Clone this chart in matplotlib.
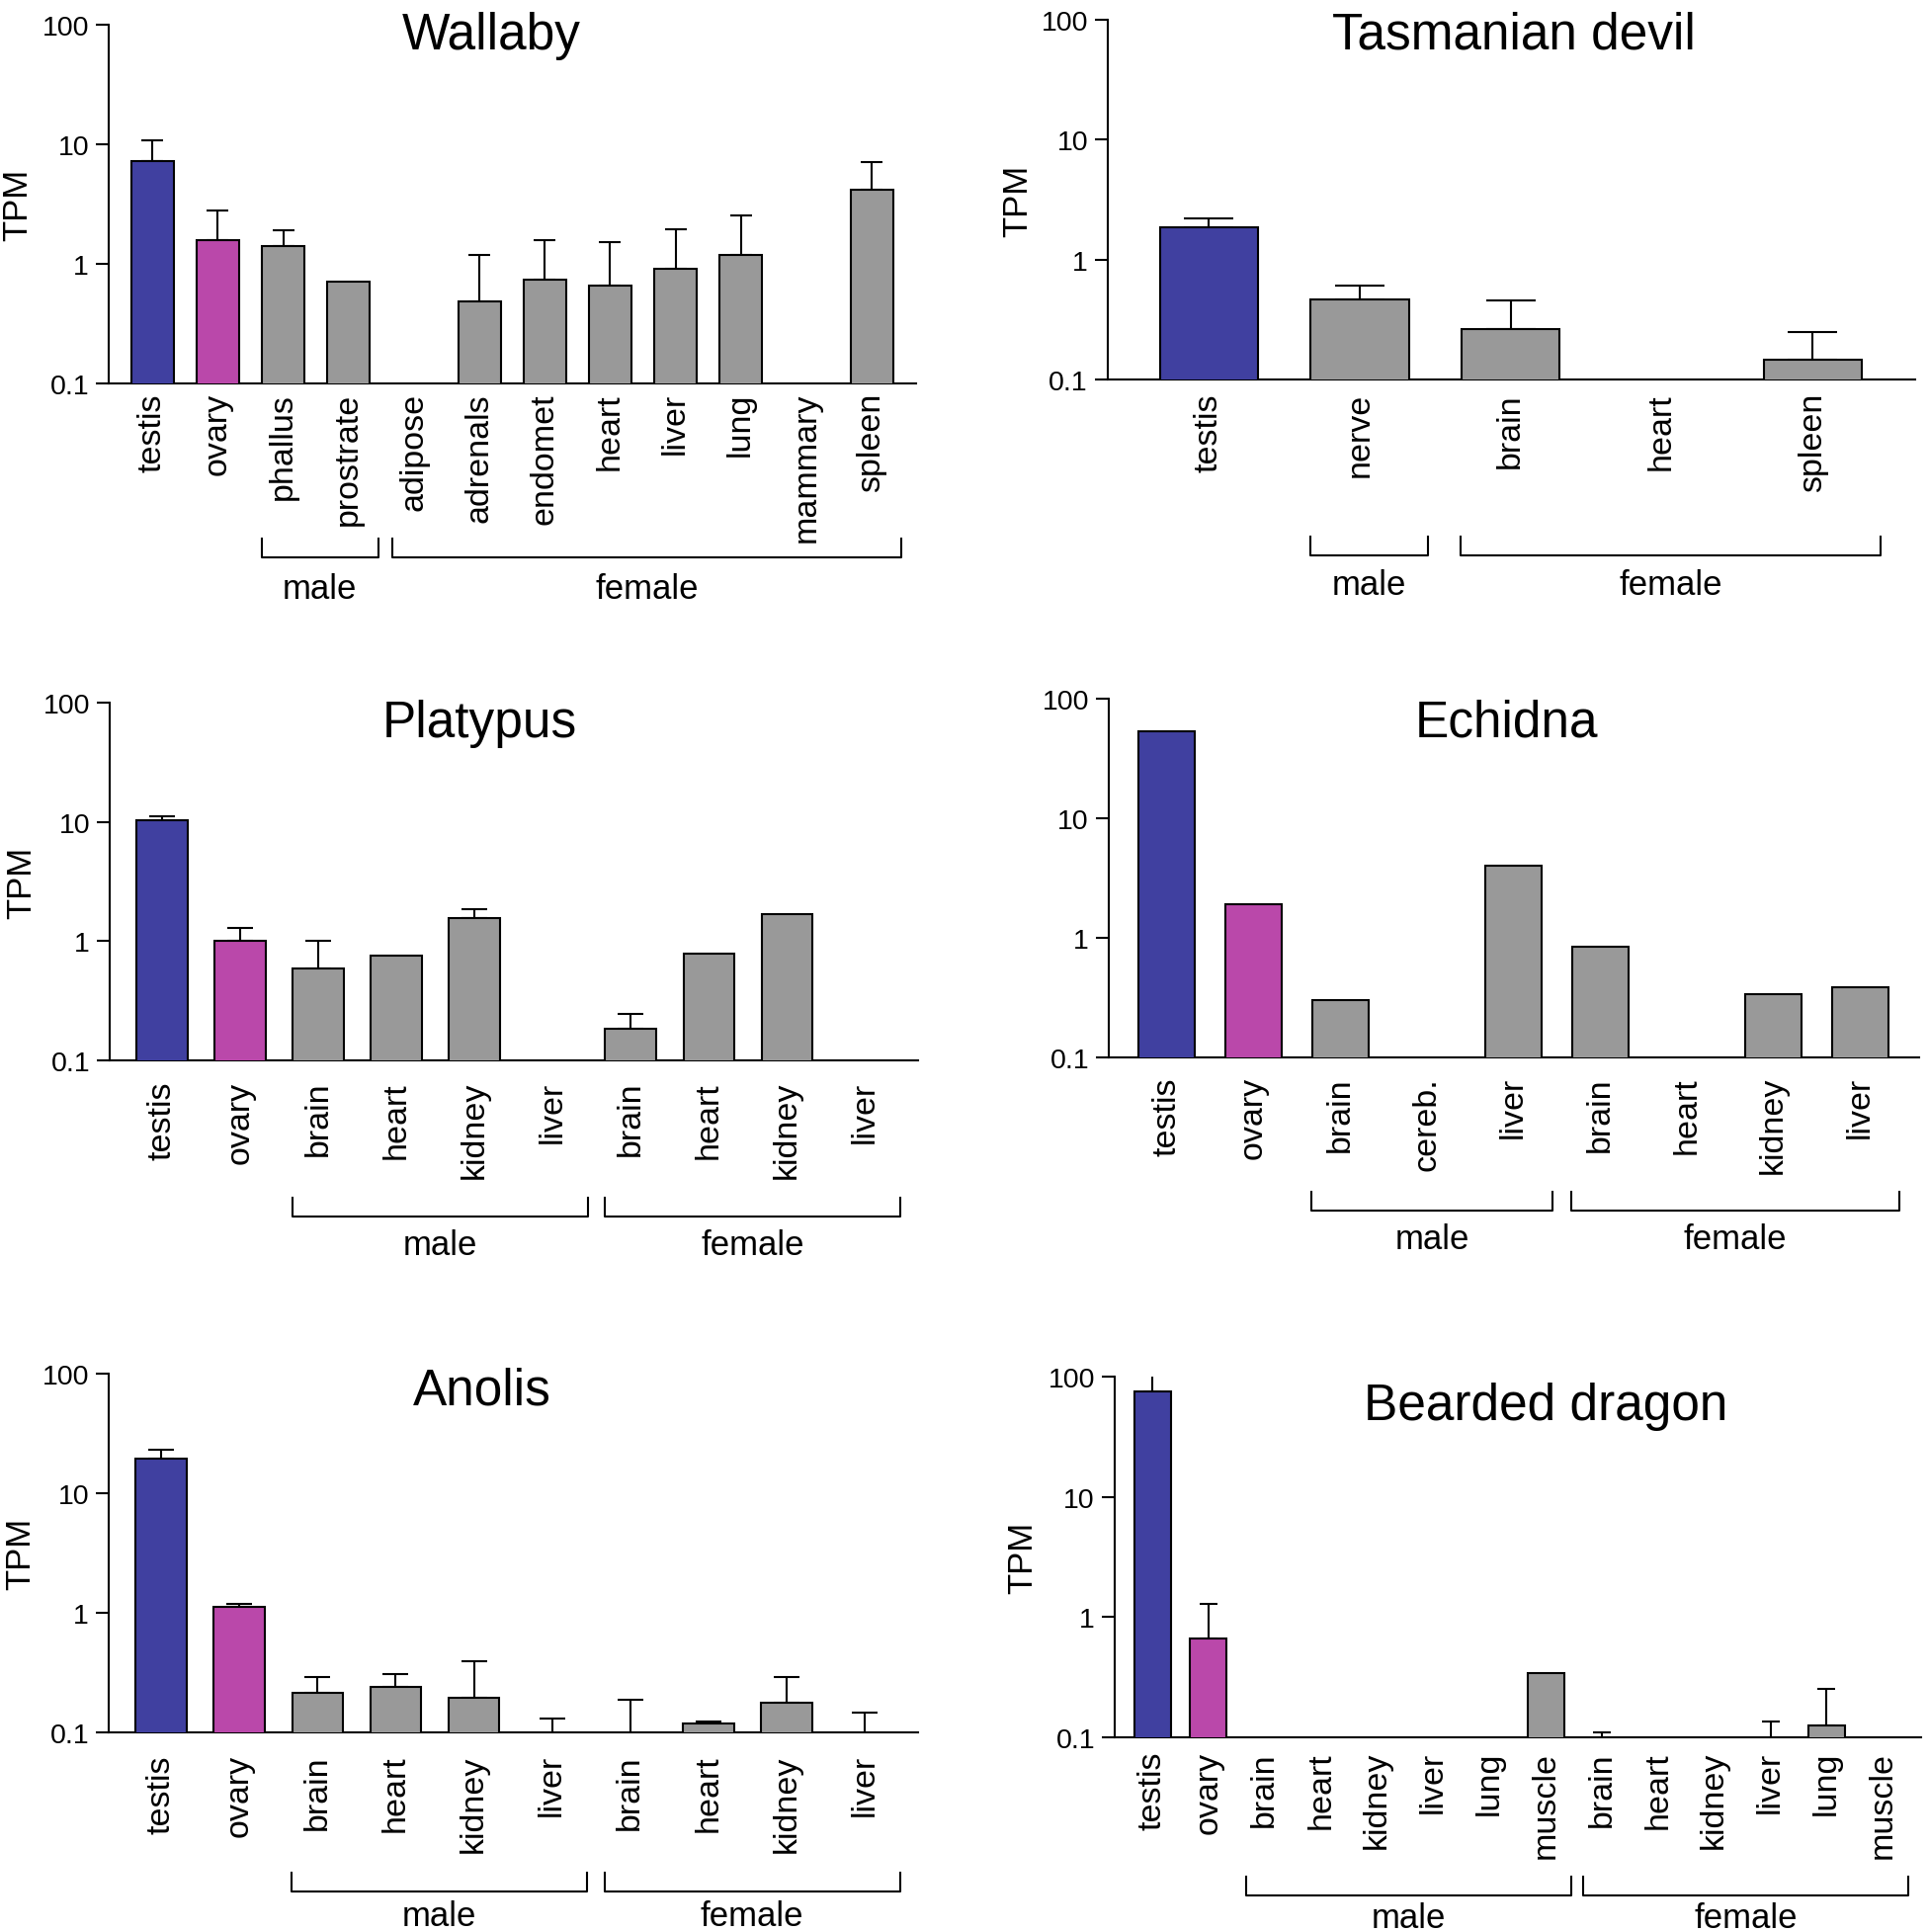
import numpy as np
import matplotlib.pyplot as plt
from matplotlib.ticker import NullLocator
from matplotlib.transforms import blended_transform_factory

plt.rcParams['font.family'] = ['Liberation Sans', 'DejaVu Sans']

#=======================================================
#               Values (TPM)
#=======================================================

# mean = bar height, err = upper error (cap - mean), 0 = nothing drawn
wallaby_tissues = ['testis', 'ovary', 'phallus', 'prostrate', 'adipose', 'adrenals',
                   'endomet', 'heart', 'liver', 'lung', 'mammary', 'spleen']
wallaby_mean = [7.3, 1.58, 1.42, 0.71, 0, 0.485, 0.74, 0.66, 0.91, 1.19, 0, 4.15]
wallaby_err = [3.5, 1.21, 0.49, 0, 0, 0.7, 0.83, 0.85, 1.04, 1.37, 0, 2.95]
wallaby_groups = [('male', 2, 3), ('female', 4, 11)]

devil_tissues = ['testis', 'nerve', 'brain', 'heart', 'spleen']
devil_mean = [1.86, 0.465, 0.263, 0, 0.147]
devil_err = [0.35, 0.14, 0.19, 0, 0.10]
devil_groups = [('male', 1, 1), ('female', 2, 4)]

platypus_tissues = ['testis', 'ovary', 'brain', 'heart', 'kidney', 'liver',
                    'brain', 'heart', 'kidney', 'liver']
platypus_mean = [10.3, 1.01, 0.59, 0.76, 1.56, 0, 0.183, 0.79, 1.68, 0]
platypus_err = [0.8, 0.27, 0.41, 0, 0.28, 0, 0.061, 0, 0, 0]
platypus_groups = [('male', 2, 5), ('female', 6, 9)]

echidna_tissues = ['testis', 'ovary', 'brain', 'cereb.', 'liver',
                   'brain', 'heart', 'kidney', 'liver']
echidna_mean = [53.5, 1.92, 0.30, 0, 4.03, 0.835, 0, 0.336, 0.387]
echidna_err = [0, 0, 0, 0, 0, 0, 0, 0, 0]
echidna_groups = [('male', 2, 4), ('female', 5, 8)]

anolis_tissues = ['testis', 'ovary', 'brain', 'heart', 'kidney', 'liver',
                  'brain', 'heart', 'kidney', 'liver']
anolis_mean = [19.6, 1.13, 0.213, 0.238, 0.195, 0.06, 0.06, 0.118, 0.178, 0.06]
anolis_err = [3.5, 0.05, 0.078, 0.071, 0.198, 0.07, 0.129, 0.005, 0.113, 0.085]
anolis_groups = [('male', 2, 5), ('female', 6, 9)]

dragon_tissues = ['testis', 'ovary', 'brain', 'heart', 'kidney', 'liver', 'lung', 'muscle',
                  'brain', 'heart', 'kidney', 'liver', 'lung', 'muscle']
dragon_mean = [75.0, 0.665, 0, 0, 0, 0, 0, 0.34, 0.06, 0, 0, 0.06, 0.125, 0]
dragon_err = [35.0, 0.63, 0, 0, 0, 0, 0, 0, 0.049, 0, 0, 0.076, 0.13, 0]
dragon_groups = [('male', 2, 7), ('female', 8, 13)]


#=======================================================
#                      Figure
#=======================================================

W, H = 1951, 1956
fig = plt.figure(figsize = (W / 100, H / 100), dpi = 100)

colors = {'testis': '#4040a0', 'ovary': '#ba48aa'}
grey = '#999999'
bw = 0.65


def panel(box, tissues, mean, err, groups, xpad, bracket_px, text_off):
    L, T, R, B = box
    ax = fig.add_axes([L / W, 1 - B / H, (R - L) / W, (B - T) / H])
    ax.set_yscale('log')
    n = len(tissues)
    x = np.arange(n)
    mean = np.asarray(mean, dtype = float)
    err = np.asarray(err, dtype = float)

    ax.set_xlim(-0.67, n - 0.32)
    ax.set_ylim(0.1, 100)

    fc = [colors.get(t, grey) for t in tissues]
    has = mean > 0
    ax.bar(x[has], mean[has], width = bw, color = np.array(fc)[has],
           edgecolor = 'black', linewidth = 1.5, zorder = 3)

    # cap length is about half a bar width
    bar_px = bw * (R - L) / (n + 0.35)
    cs = bar_px / 4 * 0.72
    e = err > 0
    ax.errorbar(x[e], mean[e], yerr = [np.zeros(e.sum()), err[e]], fmt = 'none',
                ecolor = 'black', elinewidth = 1.5, capsize = cs, capthick = 1.5,
                zorder = 2)

    ax.set_yticks([0.1, 1, 10, 100])
    ax.set_yticklabels(['0.1', '1', '10', '100'])
    ax.yaxis.set_minor_locator(NullLocator())
    ax.tick_params(axis = 'y', length = 9.4, width = 1.5, pad = 5, labelsize = 20.5)

    ax.set_xticks(x)
    ax.set_xticklabels(tissues, rotation = 90, fontsize = 24.5)
    ax.tick_params(axis = 'x', length = 0, pad = xpad)

    for s in ['top', 'right']:
        ax.spines[s].set_visible(False)
    for s in ['left', 'bottom']:
        ax.spines[s].set_linewidth(1.5)

    # male / female brackets under the labels
    trans = blended_transform_factory(ax.transData, ax.transAxes)
    yl = (B - bracket_px) / (B - T)
    yt = (B - bracket_px + 19) / (B - T)
    ytext = (B - bracket_px - text_off) / (B - T)
    for name, first, last in groups:
        x0, x1 = first - 0.33, last + 0.45
        ax.plot([x0, x0, x1, x1], [yt, yl, yl, yt], color = 'black', lw = 1.5,
                transform = trans, clip_on = False)
        ax.text((x0 + x1) / 2, ytext, name, transform = trans, ha = 'center',
                va = 'center', fontsize = 25)
    return ax


panel((110, 26, 927, 389), wallaby_tissues, wallaby_mean, wallaby_err,
      wallaby_groups, 6.5, 565, 31)
panel((1121, 21, 1938, 385), devil_tissues, devil_mean, devil_err,
      devil_groups, 9.4, 563, 30)
panel((111, 712, 929, 1074), platypus_tissues, platypus_mean, platypus_err,
      platypus_groups, 15, 1232, 28)
panel((1122, 708, 1942, 1071), echidna_tissues, echidna_mean, echidna_err,
      echidna_groups, 13.7, 1226, 29)
panel((110, 1391, 929, 1754), anolis_tissues, anolis_mean, anolis_err,
      anolis_groups, 16, 1915, 25)
panel((1128, 1394, 1944, 1759), dragon_tissues, dragon_mean, dragon_err,
      dragon_groups, 10, 1919, 23)

# Titles (baseline positions in pixels).
titles = [('Wallaby', 497, 50), ('Tasmanian devil', 1532, 50),
          ('Platypus', 485, 746), ('Echidna', 1524, 746),
          ('Anolis', 488, 1422), ('Bearded dragon', 1564, 1437)]
for t, px, py in titles:
    fig.text(px / W, 1 - py / H, t, ha = 'center', va = 'baseline', fontsize = 37)

# y labels (Echidna has none); x is the right edge of the text box
for px, py in [(34, 207), (1046, 203), (38, 893), (37, 1572), (1051, 1576)]:
    fig.text(px / W, 1 - py / H, 'TPM', rotation = 90, ha = 'right',
             va = 'center', fontsize = 25)

plt.savefig('out.png', dpi = 100)
